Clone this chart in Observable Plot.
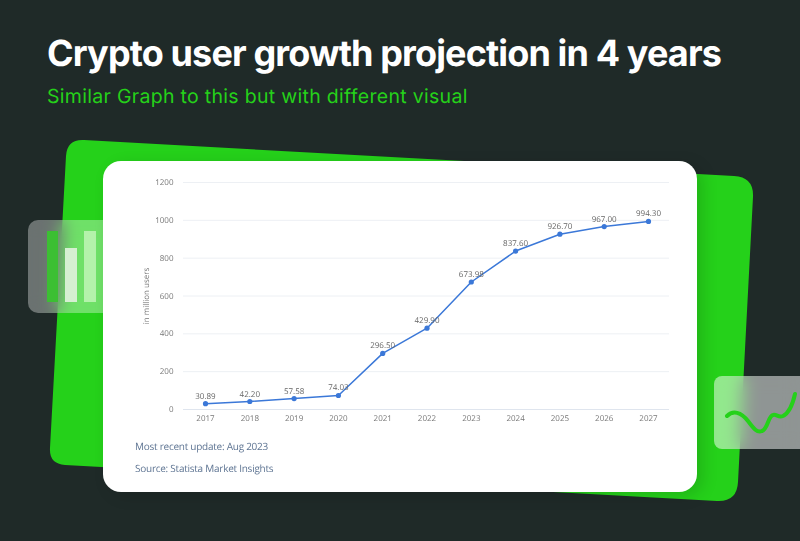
<!DOCTYPE html>
<html>
<head>
<meta charset="utf-8">
<script src="https://cdn.jsdelivr.net/npm/d3@7"></script>
<script src="https://cdn.jsdelivr.net/npm/@observablehq/plot@0.6"></script>
<style>
html,body{margin:0;padding:0;background:#1f2a28;text-rendering:geometricPrecision;}
#page{position:relative;width:800px;height:541px;overflow:hidden;background:#1f2a28;font-family:Inter,sans-serif;}
#title{position:absolute;left:47px;top:32px;margin:0;font:700 36px/42px Inter,sans-serif;color:#fff;white-space:nowrap;letter-spacing:-.87px;}
#subtitle{position:absolute;left:47px;top:84px;margin:0;font:400 19.5px/24px Inter,sans-serif;color:#25d11a;white-space:nowrap;letter-spacing:.3px;}
#deco{position:absolute;left:0;top:0;}
.glass{position:absolute;-webkit-backdrop-filter:blur(9px);backdrop-filter:blur(9px);}
#glassL{left:28px;top:220px;width:90px;height:93px;border-radius:10px;background:rgba(255,255,255,.34);}
#glassR{left:714px;top:376px;width:90px;height:73px;border-radius:8px 0 0 8px;background:rgba(255,255,255,.5);}
.bar{position:absolute;}
#card{position:absolute;left:103px;top:161px;width:594px;height:331px;background:#fff;border-radius:18px;box-shadow:6px 4px 16px rgba(0,0,0,.14);}
#card svg{position:absolute;left:0;top:0;background:transparent;text-rendering:geometricPrecision;}
.note{position:absolute;left:32px;font:400 10px/14px "Open Sans",sans-serif;letter-spacing:-.25px;color:#5f7593;white-space:nowrap;}
#squiggle{position:absolute;left:0;top:0;pointer-events:none;}
</style>
</head>
<body>
<div id="page">
  <svg id="deco" width="800" height="541"><path fill="#25d11a" d="M66 156Q67 139 84 140L734 176Q754 177 753 197L738 482Q737 502 717 501L65 465Q49 464 50 448Z"/></svg>
  <h1 id="title">Crypto user growth projection in 4 years</h1>
  <p id="subtitle">Similar Graph to this but with different visual</p>
  <div class="glass" id="glassL">
    <div class="bar" style="left:19px;top:11px;width:11px;height:71px;background:#3cbf33"></div>
    <div class="bar" style="left:37px;top:28px;width:12px;height:54px;background:#d6efd2"></div>
    <div class="bar" style="left:56px;top:11px;width:12px;height:71px;background:#b4f2ab"></div>
  </div>
  <div class="glass" id="glassR"></div>
  <svg id="squiggle" width="800" height="541"><path fill="none" stroke="#25d11a" stroke-width="4" stroke-linecap="round" stroke-linejoin="round" d="M727 416C733 410 741 412 748 421C754 429 757 433 762 431C768 429 768 416 773 415C777 414 778 418 783 416C789 413 793 403 795 394"/></svg>
  <div id="card">
    <div class="note" style="top:278px">Most recent update: Aug 2023</div>
    <div class="note" style="top:300px">Source: Statista Market Insights</div>
  </div>
</div>
<script>
const years = [2017, 2018, 2019, 2020, 2021, 2022, 2023, 2024, 2025, 2026, 2027];
const users = [30.89, 42.20, 57.58, 74.03, 296.50, 429.90, 673.98, 837.60, 926.70, 967.00, 994.30];
const yTicks = [0, 200, 400, 600, 800, 1000, 1200];
const table = years.map((year, i) => ({year, value: users[i]}));
const blue = "#3b78d8";

const chart = Plot.plot({
  width: 594,
  height: 275,
  marginLeft: 80,
  marginRight: 28,
  marginTop: 21,
  marginBottom: 27,
  style: {fontFamily: "'Open Sans', sans-serif", fontSize: "8px", background: "transparent", overflow: "visible"},
  x: {type: "point", domain: years, padding: 0, round: false, range: [102, 545]},
  y: {domain: [0, 1200]},
  marks: [
    Plot.ruleY(yTicks.slice(1), {stroke: "#edf0f4", strokeWidth: 1, strokeOpacity: 1}),
    Plot.ruleY([0], {stroke: "#dfe5ee", strokeWidth: 1, strokeOpacity: 1}),
    Plot.axisY({ticks: yTicks, tickSize: 0, tickPadding: 10, fill: "#777",
      label: "in million users", labelAnchor: "center", labelArrow: "none", labelOffset: 40, tickFormat: d => String(d)}),
    Plot.axisX({ticks: years, tickSize: 0, tickPadding: 6, fill: "#777", label: null, tickFormat: d => String(d)}),
    Plot.line(table, {x: "year", y: "value", stroke: blue, strokeWidth: 1.5}),
    Plot.dot(table, {x: "year", y: "value", r: 2.6, fill: blue, stroke: blue, strokeWidth: 0}),
    Plot.text(table, {x: "year", y: "value", text: d => d.value.toFixed(2), dy: -5, fill: "#666", lineAnchor: "bottom"})
  ]
});
document.getElementById("card").appendChild(chart);
</script>
</body>
</html>
